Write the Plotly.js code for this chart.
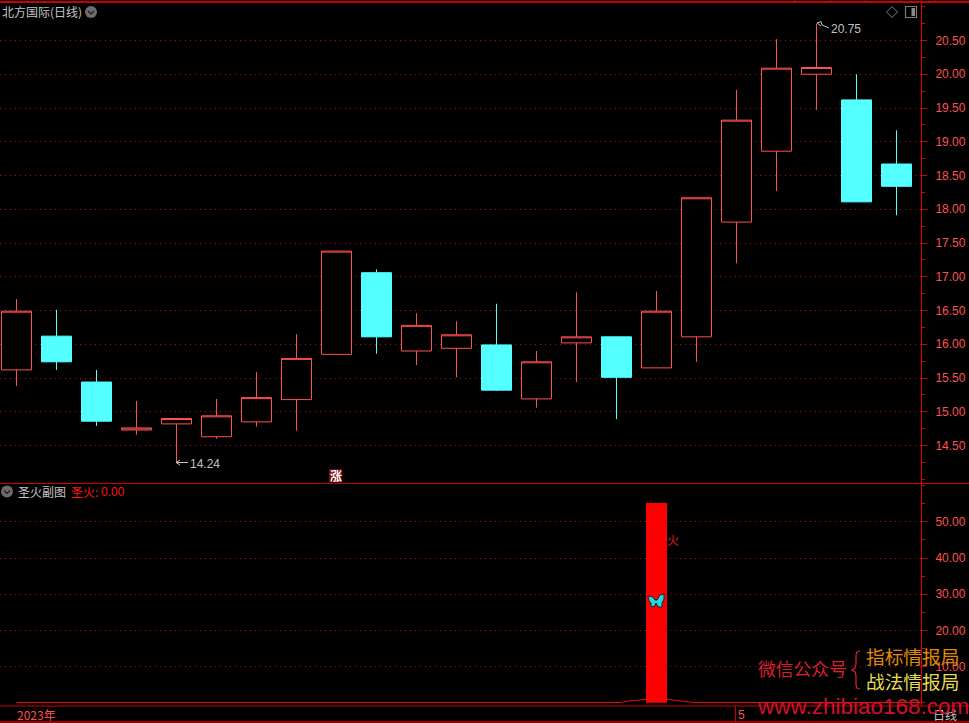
<!DOCTYPE html>
<html>
<head>
<meta charset="utf-8">
<script src="https://cdn.plot.ly/plotly-3.0.1.min.js"></script>
<style>html,body{margin:0;padding:0;background:#000;overflow:hidden}</style>
</head>
<body>
<div id="chart" style="width:969px;height:723px"></div>
<script>
const candleIndex = [0,1,2,3,4,5,6,7,8,9,10,11,12,13,14,15,16,17,18,19,20,21,22];
const opens  = [15.62,16.12,15.44,14.73,14.82,14.63,14.85,15.18,15.85,17.06,15.90,15.94,15.99,15.19,16.02,16.11,15.65,16.11,17.81,18.86,20.00,19.62,18.67];
const highs  = [16.67,16.51,15.62,15.16,14.91,15.19,15.59,16.15,17.38,17.11,16.46,16.34,16.60,15.90,16.77,16.11,16.79,18.17,19.77,20.52,20.75,20.00,19.17];
const lows   = [15.38,15.62,14.79,14.66,14.24,14.60,14.78,14.72,15.85,15.86,15.69,15.51,15.31,15.06,15.44,14.89,15.65,15.74,17.20,18.27,19.47,18.11,17.91];
const closes = [16.49,15.74,14.86,14.76,14.90,14.94,15.21,15.79,17.38,16.11,16.28,16.14,15.32,15.74,16.11,15.51,16.49,18.17,19.32,20.09,20.10,18.11,18.34];

const fireX = [16];
const fireValues = [55.2];
const baseX = [0,15.1,15.4,15.75,16.3,16.9,22.6];
const baseValues = [0.1,0.1,0.6,0.95,0.95,0.1,0.1];

const priceTicks = [14.5,15,15.5,16,16.5,17,17.5,18,18.5,19,19.5,20,20.5];
const priceLabels = ['14.50','15.00','15.50','16.00','16.50','17.00','17.50','18.00','18.50','19.00','19.50','20.00','20.50'];
const fireTicks = [10,20,30,40,50];
const fireLabels = ['10.00','20.00','30.00','40.00','50.00'];

const W = 969, H = 723;
const px = x => x / W;
const py = y => 1 - y / H;
const axisRight = 920.5;
const RED = '#ff5050', CYAN = '#54ffff', GRID = '#b01010', FRAME = '#c80000';
const CJK = '"Noto Sans CJK SC","Liberation Sans",sans-serif';
const NUM = '"Liberation Sans",Arial,sans-serif';

function txt(text, x, y, size, color, opts) {
  return Object.assign({
    text, x: px(x), y: py(y), xref: 'paper', yref: 'paper', xanchor: 'left', yanchor: 'middle',
    showarrow: false, borderpad: 0, font: {family: CJK, size, color}
  }, opts || {});
}
function line(x0, y0, x1, y1, color, width) {
  return {type: 'line', xref: 'paper', yref: 'paper', x0: px(x0), y0: py(y0), x1: px(x1), y1: py(y1),
          line: {color, width}, layer: 'above'};
}
function path(pts, fill, color, width) {
  const d = pts.map((p, i) => (i ? 'L' : 'M') + px(p[0]).toFixed(5) + ' ' + py(p[1]).toFixed(5)).join(' ') + (fill ? ' Z' : '');
  return {type: 'path', xref: 'paper', yref: 'paper', path: d, fillcolor: fill || 'rgba(0,0,0,0)',
          line: {color: color || 'rgba(0,0,0,0)', width: width === undefined ? 1 : width}, layer: 'above'};
}
function circle(cx, cy, r, fill) {
  return {type: 'circle', xref: 'paper', yref: 'paper', x0: px(cx-r), x1: px(cx+r), y0: py(cy+r), y1: py(cy-r),
          fillcolor: fill, line: {width: 0}, layer: 'above'};
}
function dropdown(cx, cy) {
  return [circle(cx, cy, 6, '#6c6c6c'), path([[cx-3,cy-1],[cx,cy+2],[cx+3,cy-1]], null, '#1c1c1c', 1.2)];
}

const topTicks = [795, 830.5, 865.5, 900.5, 935];
const bx = 656, by = 601;

const shapes = [
  line(0, 2, W, 2, FRAME, 2),
  line(0, 483.5, W, 483.5, FRAME, 1.2),
  line(0, 706, W, 706, FRAME, 1.2),
  line(0, 722, W, 722, FRAME, 1.5),
  line(735.5, 706, 735.5, 722, FRAME, 1),
  ...topTicks.map(t => line(t, 0, t, 2, FRAME, 1)),
  ...dropdown(91, 12),
  ...dropdown(7, 491.5),
  path([[892,6.5],[897.5,12],[892,17.5],[886.5,12]], 'rgba(0,0,0,0)', '#7a7a7a', 1),
  {type: 'rect', xref: 'paper', yref: 'paper', x0: px(905.5), x1: px(916.5), y0: py(17.5), y1: py(6.5),
   line: {color: '#7a7a7a', width: 1.2}, fillcolor: '#000', layer: 'above'},
  {type: 'rect', xref: 'paper', yref: 'paper', x0: px(911.5), x1: px(915), y0: py(16), y1: py(8),
   line: {width: 0}, fillcolor: '#8a8a8a', layer: 'above'},
  {type: 'rect', xref: 'paper', yref: 'paper', x0: px(329), x1: px(342), y0: py(482), y1: py(469),
   line: {width: 0}, fillcolor: '#7a0808', layer: 'above'},
  path([[176,462.5],[188,462.5]], null, '#c0c0c0', 1),
  path([[176,462.5],[180,460]], null, '#c0c0c0', 1),
  path([[176,462.5],[180,465]], null, '#c0c0c0', 1),
  path([[817,23],[821,21.5],[822,25],[829,28]], null, '#c0c0c0', 1),
  path([[817,23],[821,26]], null, '#c0c0c0', 1),
  path([[bx-1,by-1],[bx-3,by-4],[bx-8,by-5],[bx-7,by],[bx-5,by+2],[bx-5,by+5],[bx-2,by+6],[bx,by+2],
        [bx+2,by+6],[bx+6,by+6],[bx+6,by+2],[bx+8,by-2],[bx+8,by-7],[bx+4,by-6],[bx+1,by-1]],
       '#26d8d8', '#0a2a3a', 1),
  path([[860,651],[857,652],[856,655],[856,664],[855,668],[852,670],[855,672],[856,676],[856,685],[857,688],[860,689]], null, '#d81e30', 1.3)
];

const annotations = [
  txt('北方国际(日线)', 1, 11.5, 12, '#c4c4c4'),
  txt('圣火副图', 17, 491.5, 12, '#c4c4c4'),
  txt('圣火:', 70, 491.5, 12, '#ff1010'),
  txt('0.00', 100, 491.5, 12, '#ff1010', {font: {family: NUM, size: 12, color: '#ff1010'}}),
  txt('14.24', 189, 463.5, 12, '#c0c0c0', {font: {family: NUM, size: 12, color: '#c0c0c0'}}),
  txt('20.75', 830, 29, 12, '#c0c0c0', {font: {family: NUM, size: 12, color: '#c0c0c0'}}),
  txt('<b>涨</b>', 335.5, 475.5, 12, '#ffffff', {xanchor: 'center'}),
  txt('火', 666, 539, 12, '#e01818'),
  txt('2023年', 16, 714.5, 12, RED),
  txt('5', 737, 714.5, 12, RED, {font: {family: NUM, size: 12, color: RED}}),
  txt('日线', 932, 714, 12, '#c8c8c8'),
  txt('微信公众号', 756.5, 668, 17.8, '#d81e30'),
  txt('指标情报局', 864.5, 655.5, 18.7, '#e08a08'),
  txt('战法情报局', 864.5, 680.5, 18.7, '#e4dc50'),
  txt('www.zhibiao168.com', 756, 706, 22.5, '#d0102c', {font: {family: NUM, size: 22.5, color: '#d0102c'}})
];

const traces = [
  {type: 'candlestick', x: candleIndex, open: opens, high: highs, low: lows, close: closes, xaxis: 'x', yaxis: 'y',
   increasing: {line: {color: RED, width: 1}, fillcolor: '#000000'},
   decreasing: {line: {color: CYAN, width: 1}, fillcolor: CYAN},
   whiskerwidth: 0, showlegend: false, hoverinfo: 'skip'},
  {type: 'bar', x: fireX, y: fireValues, width: 0.525, xaxis: 'x2', yaxis: 'y2',
   marker: {color: '#ff0000', line: {width: 0}}, showlegend: false, hoverinfo: 'skip'},
  {type: 'scatter', mode: 'lines', x: baseX, y: baseValues, xaxis: 'x2', yaxis: 'y2',
   line: {color: '#e81010', width: 1}, showlegend: false, hoverinfo: 'skip'}
];

const xCommon = {range: [-16.5 / 40, (axisRight - 16.5) / 40], domain: [0, axisRight / W], showgrid: false, zeroline: false,
                 showticklabels: false, ticks: '', showline: false, fixedrange: true};
const yCommon = {side: 'right', showline: true, linecolor: '#d80000', linewidth: 1.5, ticks: 'outside', ticklen: 5,
                 tickwidth: 1, tickcolor: '#d80000', showgrid: true, gridcolor: GRID, gridwidth: 1,
                 griddash: '1px,4px', zeroline: false, tickmode: 'array', ticklabelstandoff: 6,
                 tickfont: {family: NUM, size: 12, color: RED}, fixedrange: true};

const layout = {
  width: W, height: H, margin: {l: 0, r: 0, t: 0, b: 0, pad: 0},
  paper_bgcolor: '#000', plot_bgcolor: '#000', showlegend: false, boxgap: 0.25, boxgroupgap: 0, boxmode: 'overlay',
  xaxis: Object.assign({}, xCommon, {anchor: 'y', rangeslider: {visible: false}}),
  xaxis2: Object.assign({}, xCommon, {anchor: 'y2'}),
  yaxis: Object.assign({}, yCommon, {anchor: 'x', domain: [py(483), py(2.5)],
    range: [20.5 - (483 - 40.5) / 67.5, 20.5 - (2.5 - 40.5) / 67.5],
    tickvals: priceTicks, ticktext: priceLabels,
    minor: {dtick: 0.25, ticks: 'outside', ticklen: 3, tickcolor: '#d80000', showgrid: false}}),
  yaxis2: Object.assign({}, yCommon, {anchor: 'x2', domain: [py(706), py(483)],
    range: [(702.8 - 706) / 3.62, (702.8 - 483) / 3.62],
    tickvals: fireTicks, ticktext: fireLabels,
    minor: {dtick: 5, ticks: 'outside', ticklen: 3, tickcolor: '#d80000', showgrid: false}}),
  shapes, annotations
};

Plotly.newPlot('chart', traces, layout, {staticPlot: true, displayModeBar: false});
</script>
</body>
</html>
